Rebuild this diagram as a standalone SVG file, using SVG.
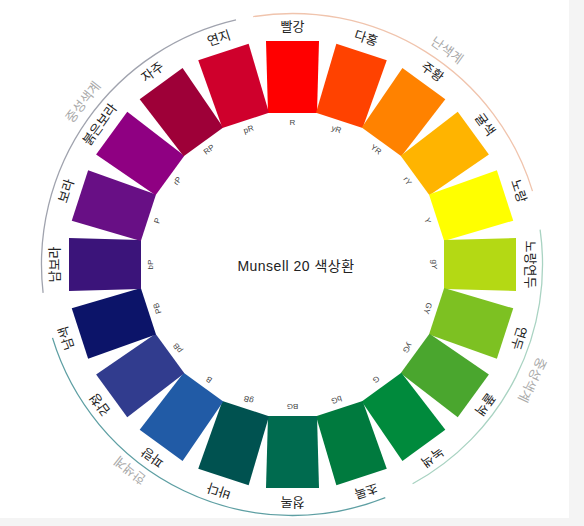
<svg xmlns="http://www.w3.org/2000/svg" width="584" height="526" viewBox="0 0 584 526">
<style>
.seg{stroke:none}
.lbl{font-family:"Noto Sans CJK KR","Noto Sans",sans-serif;font-size:13px;fill:#222;text-anchor:middle}
.code{font-family:"Liberation Sans","DejaVu Sans",sans-serif;font-size:8px;fill:#444;text-anchor:middle}
.grp{font-family:"Noto Sans CJK KR","Noto Sans",sans-serif;font-size:13px;fill:#aaaaaa;text-anchor:middle}
.arc{fill:none;stroke-width:1.3}
</style>
<defs>
<polygon id="cell" points="266,41 319,41 317,113 268,113"/>
</defs>
<rect width="584" height="526" fill="#ffffff"/>
<rect x="569" y="0" width="15" height="526" fill="#f4f4f4"/>
<rect x="0" y="518" width="584" height="8" fill="#f4f4f4"/>
<g id="connectors">
<path class="arc" stroke="#f0c4ad" d="M253.2,16.6 A251,251 0 0 1 532.5,191.1"/>
<path class="arc" stroke="#a0a3ae" d="M43.1,292.9 A251,251 0 0 1 236.0,19.9"/>
<path class="arc" stroke="#5e9fa3" d="M385.3,497.7 A251,251 0 0 1 52.5,337.9"/>
<path class="arc" stroke="#a9d3c2" d="M540.1,229.7 A250,250 0 0 1 412.6,483.8"/>
</g>
<g id="group-labels">
<text class="grp" x="292.5" y="5" transform="rotate(35.8 292.5 264.5)">난색계</text>
<text class="grp" x="292.5" y="4" transform="rotate(307.8 292.5 264.5)">중성색계</text>
<text class="grp" x="292.5" y="7" transform="rotate(218.3 292.5 264.5)">한색계</text>
<text class="grp" x="292.5" y="3" transform="rotate(115.7 292.5 264.5)">중성색계</text>
</g>
<g id="n-R" transform="rotate(0 292.5 264.5)"><use href="#cell" fill="#ff0000"/><text class="lbl" x="292.5" y="31">빨강</text><text class="code" x="292.5" y="125">R</text></g>
<g id="n-yR" transform="rotate(18 292.5 264.5)"><use href="#cell" fill="#ff4200"/><text class="lbl" x="292.5" y="31">다홍</text><text class="code" x="292.5" y="125">yR</text></g>
<g id="n-YR" transform="rotate(36 292.5 264.5)"><use href="#cell" fill="#ff8200"/><text class="lbl" x="292.5" y="31">주황</text><text class="code" x="292.5" y="125">YR</text></g>
<g id="n-rY" transform="rotate(54 292.5 264.5)"><use href="#cell" fill="#ffb400"/><text class="lbl" x="292.5" y="31">귤색</text><text class="code" x="292.5" y="125">rY</text></g>
<g id="n-Y" transform="rotate(72 292.5 264.5)"><use href="#cell" fill="#ffff00"/><text class="lbl" x="292.5" y="31">노랑</text><text class="code" x="292.5" y="125">Y</text></g>
<g id="n-gY" transform="rotate(90 292.5 264.5)"><use href="#cell" fill="#b4d914"/><text class="lbl" x="292.5" y="31">노랑연두</text><text class="code" x="292.5" y="125">gY</text></g>
<g id="n-GY" transform="rotate(108 292.5 264.5)"><use href="#cell" fill="#7dc122"/><text class="lbl" x="292.5" y="31">연두</text><text class="code" x="292.5" y="125">GY</text></g>
<g id="n-yG" transform="rotate(126 292.5 264.5)"><use href="#cell" fill="#4aa62e"/><text class="lbl" x="292.5" y="31">풀색</text><text class="code" x="292.5" y="125">yG</text></g>
<g id="n-G" transform="rotate(144 292.5 264.5)"><use href="#cell" fill="#008a3c"/><text class="lbl" x="292.5" y="31">녹색</text><text class="code" x="292.5" y="125">G</text></g>
<g id="n-bG" transform="rotate(162 292.5 264.5)"><use href="#cell" fill="#007a3e"/><text class="lbl" x="292.5" y="31">초록</text><text class="code" x="292.5" y="125">bG</text></g>
<g id="n-BG" transform="rotate(180 292.5 264.5)"><use href="#cell" fill="#006b4f"/><text class="lbl" x="292.5" y="31">청록</text><text class="code" x="292.5" y="125">BG</text></g>
<g id="n-gB" transform="rotate(198 292.5 264.5)"><use href="#cell" fill="#005250"/><text class="lbl" x="292.5" y="31">바다</text><text class="code" x="292.5" y="125">gB</text></g>
<g id="n-B" transform="rotate(216 292.5 264.5)"><use href="#cell" fill="#215ba6"/><text class="lbl" x="292.5" y="31">파랑</text><text class="code" x="292.5" y="125">B</text></g>
<g id="n-pB" transform="rotate(234 292.5 264.5)"><use href="#cell" fill="#313c8e"/><text class="lbl" x="292.5" y="31">감청</text><text class="code" x="292.5" y="125">pB</text></g>
<g id="n-PB" transform="rotate(252 292.5 264.5)"><use href="#cell" fill="#0c1469"/><text class="lbl" x="292.5" y="31">남색</text><text class="code" x="292.5" y="125">PB</text></g>
<g id="n-bP" transform="rotate(270 292.5 264.5)"><use href="#cell" fill="#3b147a"/><text class="lbl" x="292.5" y="31">남보라</text><text class="code" x="292.5" y="125">bP</text></g>
<g id="n-P" transform="rotate(288 292.5 264.5)"><use href="#cell" fill="#680f85"/><text class="lbl" x="292.5" y="31">보라</text><text class="code" x="292.5" y="125">P</text></g>
<g id="n-rP" transform="rotate(306 292.5 264.5)"><use href="#cell" fill="#8f0082"/><text class="lbl" x="292.5" y="31">붉은보라</text><text class="code" x="292.5" y="125">rP</text></g>
<g id="n-RP" transform="rotate(324 292.5 264.5)"><use href="#cell" fill="#9e0038"/><text class="lbl" x="292.5" y="31">자주</text><text class="code" x="292.5" y="125">RP</text></g>
<g id="n-pR" transform="rotate(342 292.5 264.5)"><use href="#cell" fill="#cf002c"/><text class="lbl" x="292.5" y="31">연지</text><text class="code" x="292.5" y="125">pR</text></g>
<g id="title"><text x="296" y="271" font-family="'Liberation Sans','Noto Sans CJK KR',sans-serif" font-size="14" letter-spacing="0.5" fill="#222" text-anchor="middle">Munsell 20 색상환</text></g>
</svg>
